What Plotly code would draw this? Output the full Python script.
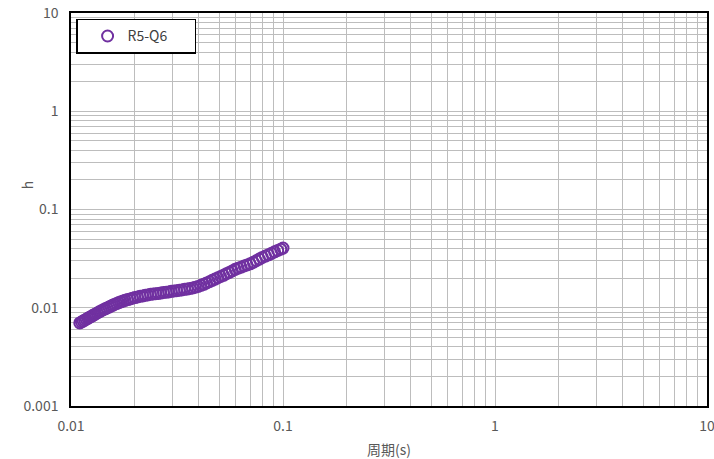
import plotly.graph_objects as go

# Data
period_s = [
    0.0110, 0.0112, 0.0114, 0.0116, 0.0118, 0.0120, 0.0122, 0.0124, 0.0126, 0.0128,
    0.0130, 0.0133, 0.0136, 0.0139, 0.0142, 0.0145, 0.0148, 0.0151, 0.0154, 0.0157,
    0.0160, 0.0164, 0.0168, 0.0172, 0.0176, 0.0180, 0.0185, 0.0190, 0.0195, 0.0200,
    0.0206, 0.0212, 0.0218, 0.0224, 0.0230, 0.0237, 0.0244, 0.0251, 0.0258, 0.0265,
    0.0273, 0.0281, 0.0289, 0.0297, 0.0306, 0.0315, 0.0324, 0.0333, 0.0343, 0.0353,
    0.0364, 0.0375, 0.0386, 0.0398, 0.0410, 0.0423, 0.0436, 0.0450, 0.0464, 0.0478,
    0.0493, 0.0508, 0.0524, 0.0541, 0.0558, 0.0576, 0.0595, 0.0614, 0.0634, 0.0655,
    0.0677, 0.0700, 0.0724, 0.0748, 0.0773, 0.0799, 0.0826, 0.0854, 0.0883, 0.0913,
    0.0944, 0.0976, 0.1000,
]
h_values = [
    0.00700, 0.00716, 0.00732, 0.00748, 0.00764, 0.00780, 0.00796, 0.00812, 0.00828, 0.00844,
    0.00860, 0.00884, 0.00908, 0.00932, 0.00954, 0.00975, 0.00996, 0.01017, 0.01038, 0.01059,
    0.01080, 0.01104, 0.01128, 0.01150, 0.01170, 0.01190, 0.01210, 0.01230, 0.01250, 0.01270,
    0.01290, 0.01310, 0.01320, 0.01340, 0.01350, 0.01370, 0.01380, 0.01390, 0.01400, 0.01410,
    0.01430, 0.01440, 0.01450, 0.01470, 0.01480, 0.01490, 0.01510, 0.01520, 0.01540, 0.01550,
    0.01570, 0.01590, 0.01620, 0.01650, 0.01690, 0.01730, 0.01790, 0.01840, 0.01900, 0.01960,
    0.02020, 0.02080, 0.02140, 0.02220, 0.02290, 0.02370, 0.02460, 0.02530, 0.02590, 0.02660,
    0.02730, 0.02800, 0.02900, 0.03010, 0.03130, 0.03250, 0.03360, 0.03460, 0.03580, 0.03710,
    0.03830, 0.03950, 0.04050,
]
series_name = "R5-Q6"

x_tick_vals = [0.01, 0.1, 1, 10]
x_tick_text = ["0.01", "0.1", "1", "10"]
y_tick_vals = [0.001, 0.01, 0.1, 1, 10]
y_tick_text = ["0.001", "0.01", "0.1", "1", "10"]

x_title = "周期(s)"
y_title = "h"

PURPLE = "#7030A0"
GRID = "#BDBDBD"
TEXT = "#595959"
FONT = "Noto Sans CJK JP"


def minor_vals(decades):
    vals = []
    for d in decades[:-1]:
        for k in range(2, 10):
            vals.append(d * k)
    return vals


fig = go.Figure()
fig.add_trace(go.Scatter(
    x=period_s, y=h_values, mode="markers", name=series_name,
    marker=dict(symbol="circle-open", size=11, color=PURPLE, line=dict(width=2, color=PURPLE)),
))

fig.update_layout(
    width=714, height=459,
    margin=dict(l=71, r=7, t=13, b=53),
    paper_bgcolor="white", plot_bgcolor="white",
    font=dict(family=FONT, size=13, color=TEXT),
    showlegend=True,
    legend=dict(
        x=0.008, y=0.985, xanchor="left", yanchor="top",
        orientation="h", entrywidth=62, indentation=10,
        bgcolor="white", bordercolor="black", borderwidth=1.5,
        font=dict(family=FONT, size=14, color="#404040"),
        itemwidth=30,
    ),
    annotations=[dict(
        text=y_title, xref="paper", yref="paper", x=-0.069, y=0.562,
        showarrow=False, textangle=-90, font=dict(family=FONT, size=14, color=TEXT),
        xanchor="center", yanchor="middle",
    )],
)

fig.update_xaxes(
    type="log", range=[-2, 1], automargin=False,
    tickvals=x_tick_vals, ticktext=x_tick_text, ticklabeloverflow="allow",
    showgrid=True, gridcolor=GRID, gridwidth=1,
    minor=dict(tickvals=minor_vals(x_tick_vals), showgrid=True, gridcolor=GRID, gridwidth=1),
    showline=True, linecolor="black", linewidth=1.5, mirror=True,
    ticks="", zeroline=False, tickfont=dict(size=14), ticklabelstandoff=6,
    title=dict(text=x_title, font=dict(family=FONT, size=14, color=TEXT), standoff=14),
)
fig.update_yaxes(
    type="log", range=[-3, 1], automargin=False,
    tickvals=y_tick_vals, ticktext=y_tick_text, ticklabeloverflow="allow",
    showgrid=True, gridcolor=GRID, gridwidth=1,
    minor=dict(tickvals=minor_vals(y_tick_vals), showgrid=True, gridcolor=GRID, gridwidth=1),
    showline=True, linecolor="black", linewidth=1.5, mirror=True,
    ticks="", zeroline=False, tickfont=dict(size=14), ticklabelstandoff=8,
)

# remove the browser's default 8px body margin so the figure fills the window
fig.write_html(
    "out.html",
    config={"displayModeBar": False},
    post_script="document.body.style.margin='0';",
)
